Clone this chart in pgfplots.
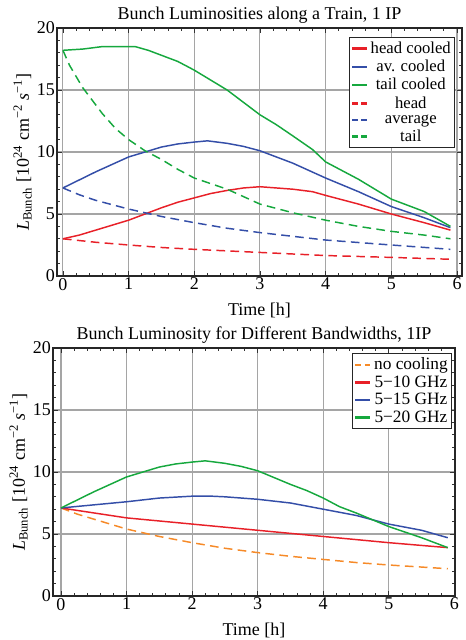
\documentclass[border=0pt]{standalone}
\usepackage{fontspec}
\setmainfont{Liberation Serif}
\usepackage{pgfplots}
\pgfplotsset{compat=1.18}

\definecolor{cred}{RGB}{232,32,40}
\definecolor{cblue}{RGB}{52,78,168}
\definecolor{cgreen}{RGB}{22,168,62}
\definecolor{corange}{RGB}{246,138,40}
\definecolor{cgrid}{RGB}{165,165,165}

\pgfplotsset{
  lumi/.style={
    scale only axis, anchor=south west,
    height=186pt,
    ymin=0, ymax=20,
    xtick={0,1,...,6}, ytick={0,5,10,15,20},
    minor x tick num=4, minor y tick num=4,
    tick align=inside, major tick length=4pt, minor tick length=2.5pt,
    grid=major, major grid style={cgrid, line width=0.8pt},
    axis line style={line width=0.8pt, black!85},
    tick style={black!80, line width=0.6pt},
    /pgf/number format/assume math mode=true,
    tick label style={font=\fontsize{13.5}{13.5}\selectfont},
    xticklabel style={yshift=2pt},
    yticklabel style={xshift=2pt},
    title style={font=\fontsize{13.5}{13.5}\selectfont, yshift=-6pt},
    label style={font=\fontsize{13.5}{13.5}\selectfont},
    xlabel={Time [h]},
    xlabel style={yshift=-3pt},
    ylabel={\textit{L}\textsubscript{Bunch} [10\textsuperscript{24} cm\textsuperscript{−2} \textit{s}\textsuperscript{−1}]},
    ylabel style={yshift=-3pt},
    legend style={font=\fontsize{12.5}{10}\selectfont, draw=black!85, line width=0.8pt,
      inner sep=1pt, row sep=-0.5pt, cells={anchor=center}},
    legend cell align=center,
    legend image code/.code={\draw[#1, line width=2pt] (0pt,0pt) -- (11pt,0pt);},
    every axis plot/.append style={line width=1.1pt, line join=round},
  },
  dsh/.style={dash pattern=on 6.5pt off 4pt,
    legend image post style={dash pattern=on 4.5pt off 2.5pt}},
}

\begin{document}
\begin{tikzpicture}
\useasboundingbox (0pt,0pt) rectangle (348.75pt,480pt);

\begin{axis}[lumi, at={(42.75pt,273pt)}, width=303.75pt,
  xmin=-0.09, xmax=6.076,
  title={Bunch Luminosities along a Train, 1 IP},
  legend style={at={(1,1)}, anchor=north east, xshift=-5pt, yshift=-7pt},
]
\addplot[cred] coordinates {(0,3.0) (0.25,3.3) (0.5,3.7) (0.75,4.1) (1,4.5) (1.25,5.0) (1.5,5.5) (1.75,5.95) (2,6.3) (2.25,6.65) (2.5,6.9) (2.75,7.1) (3,7.2) (3.25,7.1) (3.5,7.0) (3.8,6.8) (4,6.5) (4.5,5.8) (5,5.0) (5.5,4.3) (5.9,3.7)};
\addlegendentry{head cooled}
\addplot[cblue] coordinates {(0,7.1) (0.25,7.75) (0.5,8.4) (0.75,9.0) (1,9.6) (1.25,10.0) (1.5,10.4) (1.75,10.65) (2,10.8) (2.2,10.9) (2.5,10.7) (2.75,10.45) (3,10.1) (3.25,9.6) (3.5,9.1) (3.75,8.5) (4,7.9) (4.5,6.8) (5,5.6) (5.5,4.7) (5.9,3.9)};
\addlegendentry{av. cooled}
\addplot[cgreen] coordinates {(0,18.2) (0.3,18.3) (0.6,18.5) (1.1,18.5) (1.3,18.2) (1.5,17.8) (1.75,17.3) (2,16.6) (2.25,15.8) (2.5,15.0) (2.75,14.0) (3,13.0) (3.25,12.2) (3.5,11.3) (3.8,10.2) (4,9.2) (4.25,8.5) (4.5,7.8) (4.75,7.0) (5,6.2) (5.25,5.7) (5.5,5.2) (5.9,4.0)};
\addlegendentry{tail cooled}
\addplot[cred, dsh] coordinates {(0,3.0) (0.5,2.72) (1,2.5) (1.5,2.3) (2,2.15) (3,1.9) (4,1.65) (5,1.5) (5.9,1.35)};
\addlegendentry{head}
\addplot[cblue, dsh] coordinates {(0,7.1) (0.25,6.55) (0.5,6.1) (1,5.4) (1.5,4.8) (2,4.3) (2.5,3.85) (3,3.5) (3.5,3.2) (4,2.9) (4.5,2.7) (5,2.5) (5.9,2.15)};
\addlegendentry{average}
\addplot[cgreen, dsh] coordinates {(0,18.2) (0.1,17.0) (0.2,16.1) (0.3,15.2) (0.4,14.5) (0.6,13.1) (0.8,11.9) (1,11.0) (1.25,10.1) (1.5,9.4) (1.75,8.6) (2,7.9) (2.5,7.0) (3,5.8) (3.5,5.1) (4,4.5) (4.5,4.0) (5,3.6) (5.5,3.3) (5.9,3.0)};
\addlegendentry{tail}
\end{axis}

\begin{axis}[lumi, at={(39.75pt,33pt)}, width=301.5pt,
  xmin=-0.122, xmax=6.01,
  title={Bunch Luminosity for Different Bandwidths, 1IP},
  legend style={at={(1,1)}, anchor=north east, xshift=-2pt, yshift=-4pt, row sep=-1pt,
    font=\fontsize{13}{10}\selectfont},
]
\addplot[corange, dsh] coordinates {(0,7.1) (0.25,6.6) (0.5,6.2) (1,5.4) (1.5,4.8) (2,4.3) (2.5,3.85) (3,3.5) (3.5,3.2) (4,2.95) (4.5,2.7) (5,2.5) (5.9,2.2)};
\addlegendentry{no cooling}
\addplot[cred] coordinates {(0,7.1) (0.5,6.7) (1,6.3) (1.5,6.05) (2,5.8) (3,5.3) (4,4.8) (5,4.3) (5.9,3.9)};
\addlegendentry{5−10 GHz}
\addplot[cblue] coordinates {(0,7.1) (0.5,7.35) (1,7.6) (1.5,7.9) (2,8.05) (2.3,8.05) (2.5,8.0) (3,7.8) (3.5,7.5) (4,7.0) (4.5,6.5) (5,5.8) (5.5,5.3) (5.9,4.7)};
\addlegendentry{5−15 GHz}
\addplot[cgreen] coordinates {(0,7.1) (0.25,7.75) (0.5,8.4) (0.75,9.0) (1,9.6) (1.25,10.0) (1.5,10.4) (1.75,10.65) (2,10.8) (2.2,10.9) (2.5,10.7) (2.75,10.45) (3,10.1) (3.25,9.55) (3.5,9.0) (3.75,8.5) (4,7.9) (4.25,7.2) (4.5,6.7) (5,5.6) (5.5,4.7) (5.9,3.9)};
\addlegendentry{5−20 GHz}
\end{axis}
\end{tikzpicture}
\end{document}
